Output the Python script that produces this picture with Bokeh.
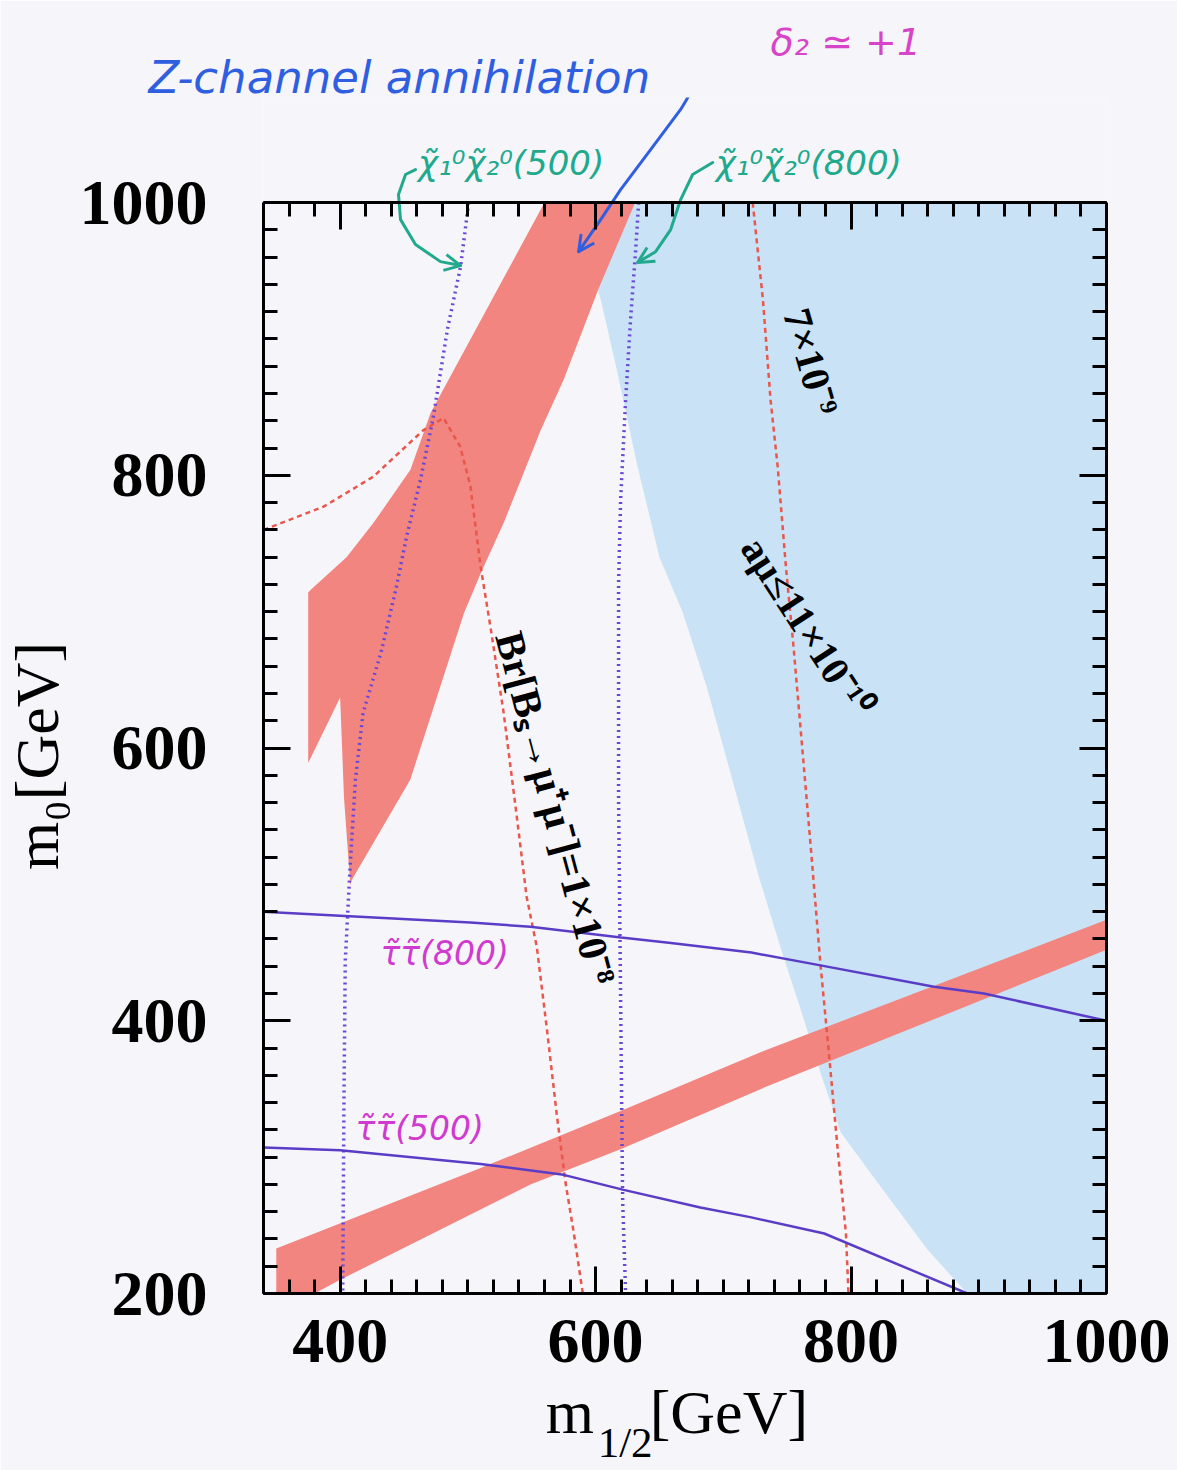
from bokeh.plotting import figure
from bokeh.models import (Range1d, LinearAxis, SingleIntervalTicker, Label, Arrow,
                          OpenHead, ColumnDataSource, CustomJSTickFormatter)
from bokeh.embed import file_html
from bokeh.resources import INLINE

# ---------------- data: m_1/2 [GeV] vs m_0 [GeV] ----------------
# light-blue region
blue_x = [582, 604, 616, 633, 650, 668, 687, 707, 728, 746, 760, 776, 792, 821, 860, 891, 1000, 1000]
blue_y = [1000, 929, 880, 806, 740, 700, 645, 577, 505, 450, 410, 362, 318, 281, 232, 200, 200, 1000]

# upper red (dark-matter) band
band_up_x = [560, 631, 602, 575, 557, 528, 510, 497, 455, 409, 408, 403, 400, 375, 375, 377, 405, 426, 455, 471]
band_up_y = [1000, 1000, 936, 870, 833, 765, 728, 699, 577, 503, 499, 564, 637, 589, 714, 716, 740, 765, 804, 846]

# lower red (coannihilation) band
band_lo_x = [350, 510, 620, 732, 1000, 1000, 732, 620, 549, 400, 380, 350]
band_lo_y = [233, 292, 334, 378, 474, 452, 351, 306, 280, 210, 200, 200]

# Br[Bs -> mu mu] = 1e-8 contour
bs_x = [340, 387, 426, 465, 481, 494, 502, 510, 518, 528, 538, 546, 554, 562, 569.5, 576.5, 583, 590]
bs_y = [760, 777, 799, 833, 842, 821, 792, 733, 687, 626, 552, 491, 454, 393, 332, 281, 244, 200]

# a_mu contour
amu_x = [723, 731, 737, 742.6, 749, 755, 760.6, 768.5, 776, 782.5, 789.6, 796, 798]
amu_y = [1000, 929, 855, 806, 733, 674, 613, 527, 442, 378, 305, 244, 200]

# neutralino-pair thresholds (500 and 800 GeV)
chi500_x = [500.6, 494.3, 484, 475.5, 473, 463, 452, 444, 432, 418, 412, 408, 404, 403, 402]
chi500_y = [1000, 953, 907, 857.6, 843, 797, 755, 718, 670, 626, 577, 516, 444, 342, 200]
chi800_x = [633.7, 631.4, 627.5, 623.5, 619.6, 618, 618, 619.6, 621.2, 623.5]
chi800_y = [1000, 965.5, 916, 855, 782, 721, 562, 415, 268, 200]

# stau-pair thresholds (800 and 500 GeV)
stau800_x = [340, 400, 502, 549, 620, 659, 722, 774, 865, 904, 1000]
stau800_y = [480, 477, 472, 469, 461, 457, 450, 441, 425, 420, 400]
stau500_x = [340, 400, 510, 575, 622, 682, 721, 779, 891]
stau500_y = [307, 305, 295, 287, 276, 263, 256, 244, 200]

x_ticks_interval = 200
y_ticks_interval = 200

# hand-drawn pointer strokes (data units)
zarrow_x = [657.2, 670.5, 674.5, 671.3, 666.6, 643.1, 619.6, 604.0, 586.7]
zarrow_y = [1091.7, 1090.3, 1081.5, 1075.6, 1068.3, 1038.9, 1009.5, 987.5, 964.0]
g1arrow_x = [459.0, 451.2, 445.7, 447.3, 459.0, 478.6, 494.3]
g1arrow_y = [1024.2, 1020.6, 1005.9, 987.5, 969.2, 956.7, 953.8]
g2arrow_x = [691.7, 676.0, 666.6, 658.8, 647.0, 632.9]
g2arrow_y = [1029.4, 1020.6, 1002.2, 980.2, 964.0, 956.0]

BG = "#f6f6fa"
RED = "#f2857f"
LIGHTBLUE = "#c9e2f5"
DASHRED = "#e8564c"
DOTBLUE = "#6a48d6"
STAU = "#5a3cc6"
ZBLUE = "#2f5fe0"
GREEN = "#20a98c"
MAGENTA = "#d03ad0"
SERIF = "Liberation Serif"
HAND = "DejaVu Sans"

# the data frame reaches up into the note area; the box is closed by the axes
X0, X1 = 340, 1000
Y0, Y1 = 200, 1000
FRAME_BOTTOM_PX = 1293
PX_PER_Y = 1090 / (Y1 - Y0)
NOTE_PANEL_PX = 98            # height taken by the two notes in the top border
Y_TOP = Y0 + (FRAME_BOTTOM_PX - NOTE_PANEL_PX) / PX_PER_Y

p = figure(width=1177, height=1470, output_backend="svg", toolbar_location=None,
           x_range=Range1d(X0, X1), y_range=Range1d(Y0, Y_TOP),
           min_border_left=263, min_border_right=71, min_border_top=0,
           min_border_bottom=1470 - FRAME_BOTTOM_PX,
           background_fill_color=BG, border_fill_color=BG)
p.grid.visible = False
p.outline_line_color = None

# regions
p.patch(blue_x, blue_y, fill_color=LIGHTBLUE, line_color=None)
p.patch(band_up_x, band_up_y, fill_color=RED, line_color=None)
p.patch(band_lo_x, band_lo_y, fill_color=RED, line_color=None)

# contours
p.line(bs_x, bs_y, line_color=DASHRED, line_width=2.5, line_dash="5 4")
p.line(amu_x, amu_y, line_color=DASHRED, line_width=2.5, line_dash="5 4")
p.line(chi500_x, chi500_y, line_color=DOTBLUE, line_width=3.5, line_dash="2 4")
p.line(chi800_x, chi800_y, line_color=DOTBLUE, line_width=3.5, line_dash="2 4")
p.line(stau800_x, stau800_y, line_color=STAU, line_width=2.5)
p.line(stau500_x, stau500_y, line_color=STAU, line_width=2.5)


def style_axis(ax, show_labels):
    ax.axis_line_width = 3
    ax.axis_line_color = "black"
    ax.major_tick_in = 27
    ax.major_tick_out = 0
    ax.minor_tick_in = 14
    ax.minor_tick_out = 0
    ax.major_tick_line_width = 3
    ax.minor_tick_line_width = 3
    ax.major_tick_line_color = "black"
    ax.minor_tick_line_color = "black"
    if show_labels:
        ax.major_label_text_font = SERIF
        ax.major_label_text_font_style = "bold"
        ax.major_label_text_font_size = "64px"
        ax.major_label_text_color = "black"
    else:
        ax.formatter = CustomJSTickFormatter(code="return ''")
        ax.major_label_text_font_size = "1px"
        ax.major_label_standoff = 0


p.xaxis.ticker = SingleIntervalTicker(interval=x_ticks_interval, num_minor_ticks=10)
p.yaxis.ticker = SingleIntervalTicker(interval=y_ticks_interval, num_minor_ticks=10)
style_axis(p.xaxis[0], True)
style_axis(p.yaxis[0], True)
p.xaxis.major_label_standoff = 26
p.yaxis.major_label_standoff = 56
p.yaxis.bounds = (Y0, Y1)

top_ax = LinearAxis(ticker=SingleIntervalTicker(interval=x_ticks_interval, num_minor_ticks=10),
                    fixed_location=Y1)
right_ax = LinearAxis(ticker=SingleIntervalTicker(interval=y_ticks_interval, num_minor_ticks=10),
                      bounds=(Y0, Y1))
style_axis(top_ax, False)
style_axis(right_ax, False)
p.add_layout(top_ax, "above")
p.add_layout(right_ax, "right")


def lab(side, x, y, text, size, **kw):
    kw.setdefault("text_color", "black")
    p.add_layout(Label(x=x, y=y, text=text, text_font=kw.pop("font", SERIF),
                       text_font_size=size, **kw), side)


# axis titles (each sits in a border panel with room to spare)
lab("below", 560.9, 88.4, "m\u2002\u2009\u2009[GeV]", "62px")
lab("right", 601.6, 73.8, "1/2", "43px")
lab("left", 189.0, 510.5, "m\u2080[GeV]", "62px", angle=90, angle_units="deg")

# contour captions
lab("center", 568.7, 556, "Br[B\u209b\u2192\u03bc\u207a\u03bc\u207b]=1\u00d710\u207b\u2078", "41px",
    text_font_style="bold", angle=-75, angle_units="deg", text_align="center",
    text_baseline="middle")
lab("center", 768.4, 883.3, "7\u00d710\u207b\u2079", "40px", text_font_style="bold",
    angle=-74, angle_units="deg", text_align="center", text_baseline="middle")
lab("center", 765.3, 688.8, "a\u03bc\u226411\u00d710\u207b\u00b9\u2070", "40px",
    text_font_style="bold", angle=-57, angle_units="deg", text_align="center",
    text_baseline="middle")
lab("center", 431.6, 449.5, "\u03c4\u0303\u03c4\u0303(800)", "33px", font=HAND,
    text_font_style="italic", text_color=MAGENTA, text_baseline="middle")
lab("center", 412, 321, "\u03c4\u0303\u03c4\u0303(500)", "33px", font=HAND,
    text_font_style="italic", text_color=MAGENTA, text_baseline="middle")

# hand-written notes
lab("above", 250, 1091.7, "Z-channel annihilation", "45px", font=HAND,
    text_font_style="italic", text_color=ZBLUE, text_baseline="middle")
lab("above", 737, 1118, "\u03b4\u2082 \u2243 +1", "38px", font=HAND,
    text_font_style="italic", text_color="#d844c8", text_baseline="middle")
lab("center", 461, 1029, "\u03c7\u0303\u2081\u2070\u03c7\u0303\u2082\u2070(500)", "34px",
    font=HAND, text_font_style="italic", text_color=GREEN, text_baseline="middle")
lab("center", 694, 1029, "\u03c7\u0303\u2081\u2070\u03c7\u0303\u2082\u2070(800)", "34px",
    font=HAND, text_font_style="italic", text_color=GREEN, text_baseline="middle")


def stroke(xs, ys, color):
    p.line(xs, ys, line_color=color, line_width=3, line_join="round", line_cap="round")
    tip = ColumnDataSource(dict(x0=xs[-2:-1], y0=ys[-2:-1], x1=xs[-1:], y1=ys[-1:]))
    p.add_layout(Arrow(end=OpenHead(size=16, line_color=color, line_width=3), source=tip,
                       x_start="x0", y_start="y0", x_end="x1", y_end="y1",
                       line_color=color, line_width=3, line_alpha=0))


stroke(zarrow_x, zarrow_y, ZBLUE)
stroke(g1arrow_x, g1arrow_y, GREEN)
stroke(g2arrow_x, g2arrow_y, GREEN)

open("out.html", "w").write(file_html(p, INLINE))
